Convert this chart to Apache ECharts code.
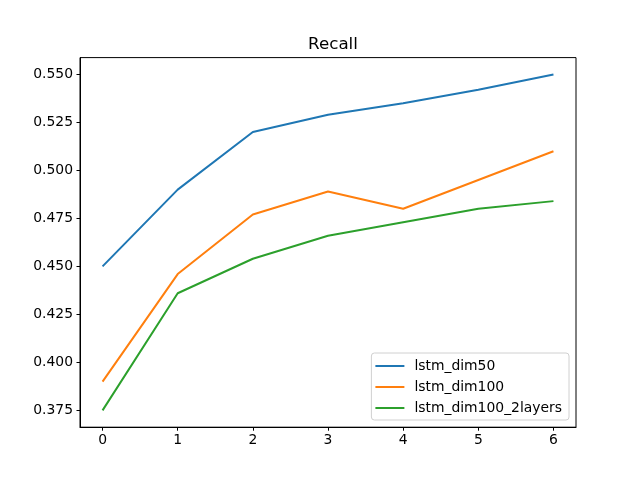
<!DOCTYPE html>
<html>
<head>
<meta charset="utf-8">
<script src="https://cdn.jsdelivr.net/npm/echarts@6/dist/echarts.min.js"></script>
<style>html,body{margin:0;padding:0;background:#fff}#c{width:640px;height:480px}</style>
</head>
<body>
<div id="c"></div>
<script>
const xValues = [0, 1, 2, 3, 4, 5, 6];
const seriesNames = ['lstm_dim50', 'lstm_dim100', 'lstm_dim100_2layers'];
const lstmDim50 = [0.450, 0.490, 0.520, 0.529, 0.535, 0.542, 0.550];
const lstmDim100 = [0.390, 0.446, 0.477, 0.489, 0.480, 0.495, 0.510];
const lstmDim100TwoLayers = [0.375, 0.436, 0.454, 0.466, 0.473, 0.480, 0.484];
const yTicks = [0.375, 0.400, 0.425, 0.450, 0.475, 0.500, 0.525, 0.550];
const colors = ['#1f77b4', '#ff7f0e', '#2ca02c'];

const font = 'DejaVu Sans';
const allSeries = [lstmDim50, lstmDim100, lstmDim100TwoLayers];
const chart = echarts.init(document.getElementById('c'), null, {renderer: 'canvas'});
chart.setOption({
  animation: false,
  backgroundColor: '#fff',
  title: {
    text: 'Recall', left: 328, top: 31, textAlign: 'center',
    textStyle: {fontFamily: font, fontSize: 16.7, fontWeight: 'normal', color: '#000'}
  },
  grid: {left: 80, right: 64, top: 57.6, bottom: 52.8, show: true, borderColor: '#000', borderWidth: 1, backgroundColor: 'transparent'},
  legend: {
    orient: 'vertical', right: 71, bottom: 60,
    data: seriesNames,
    icon: 'rect', itemWidth: 29, itemHeight: 2, itemGap: 7,
    backgroundColor: '#fff', borderColor: '#d0d0d0', borderWidth: 1, borderRadius: 3,
    padding: [6, 7, 5, 4],
    textStyle: {fontFamily: font, fontSize: 13.9, color: '#000', padding: [0, 0, 0, 5]}
  },
  xAxis: {
    type: 'value', min: -0.3, max: 6.3,
    splitLine: {show: false},
    axisLine: {show: true, onZero: false, lineStyle: {color: '#000', width: 1}},
    axisTick: {show: true, length: 3.5, customValues: xValues, lineStyle: {color: '#000'}},
    axisLabel: {customValues: xValues, margin: 6, color: '#000', fontFamily: font, fontSize: 13.9, formatter: v => String(v)}
  },
  yAxis: {
    type: 'value', min: 0.36625, max: 0.55875,
    splitLine: {show: false},
    axisLine: {show: true, onZero: false, lineStyle: {color: '#000', width: 1}},
    axisTick: {show: true, length: 3.5, customValues: yTicks, lineStyle: {color: '#000'}},
    axisLabel: {customValues: yTicks, margin: 7, color: '#000', fontFamily: font, fontSize: 13.9, formatter: v => v.toFixed(3)}
  },
  series: seriesNames.map((n, i) => ({
    name: n, type: 'line', showSymbol: false, symbol: 'none',
    data: xValues.map((x, j) => [x, allSeries[i][j]]),
    lineStyle: {color: colors[i], width: 2},
    itemStyle: {color: colors[i]}
  }))
});
</script>
</body>
</html>
